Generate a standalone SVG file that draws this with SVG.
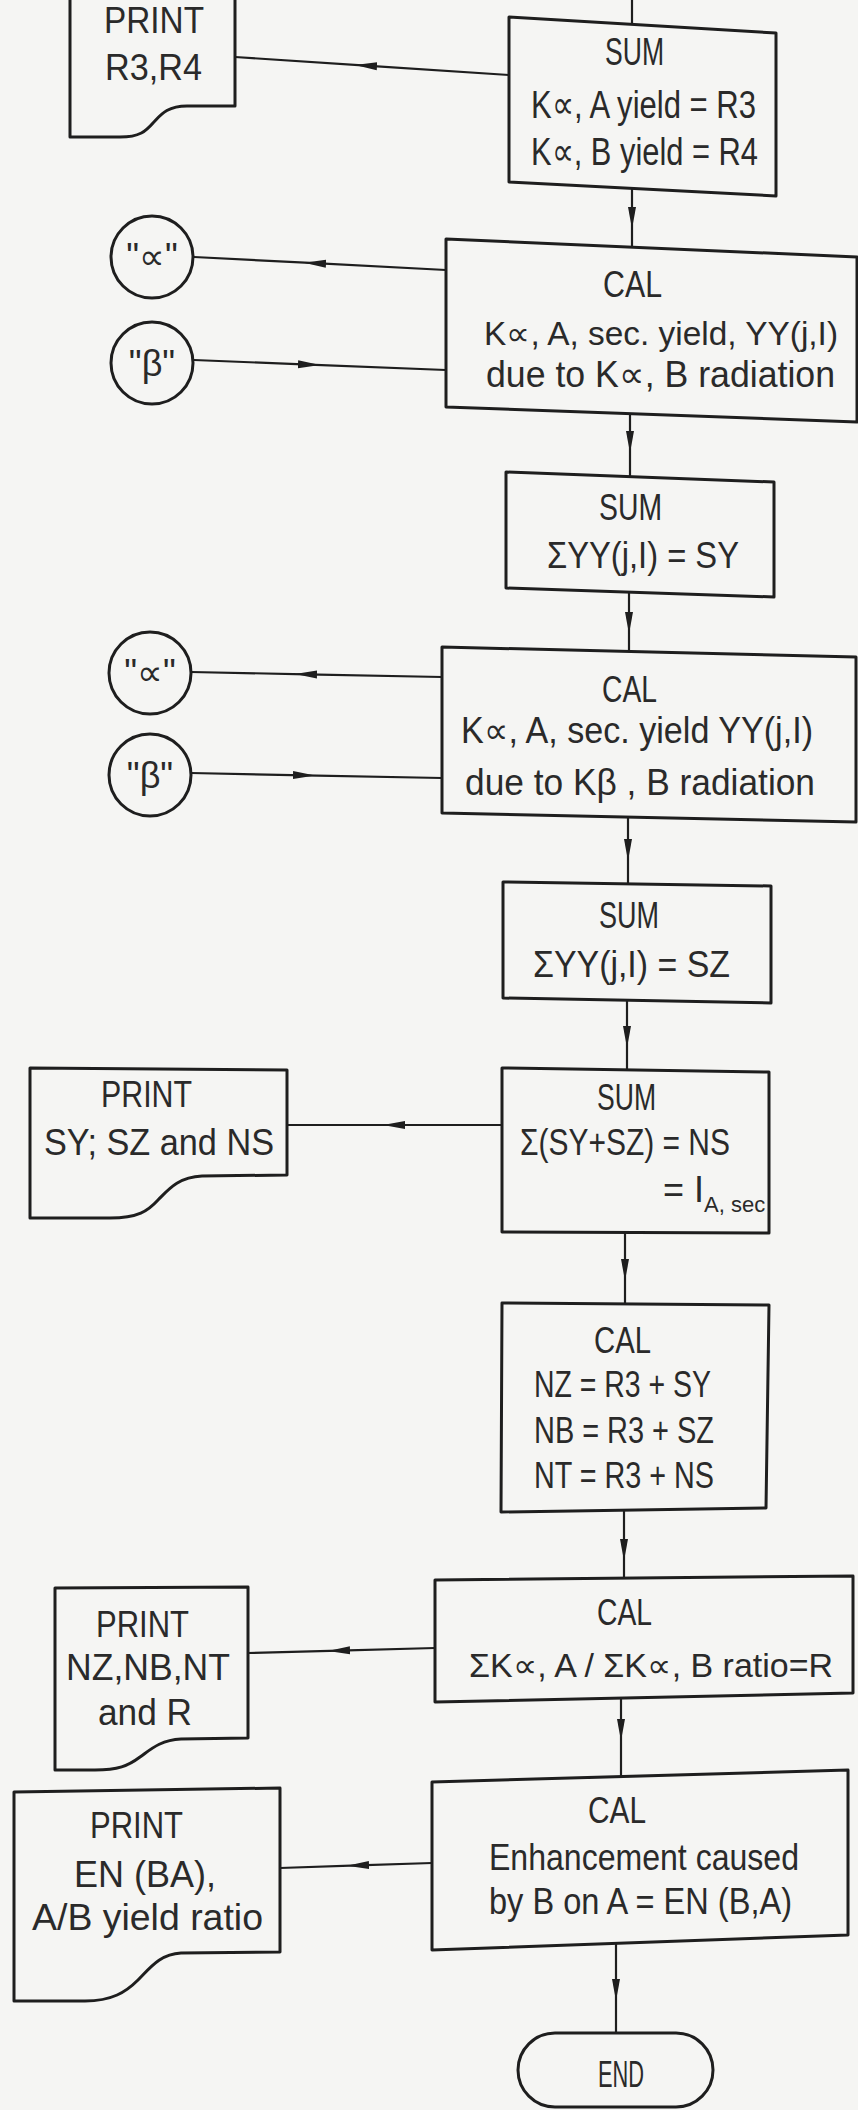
<svg xmlns="http://www.w3.org/2000/svg" width="858" height="2110" viewBox="0 0 858 2110">
<defs>
<style>
.box{fill:none;stroke:#1e1e1e;stroke-width:3;stroke-linejoin:round}
.ln{fill:none;stroke:#1e1e1e;stroke-width:2.2;marker-mid:url(#ah)}
.pl{fill:none;stroke:#1e1e1e;stroke-width:2.2}
.t{font-family:"Liberation Sans",Arial,sans-serif;font-size:36px;fill:#2a2a2a}
.ts{font-family:"Liberation Sans",Arial,sans-serif;font-size:33px;fill:#2a2a2a}
.tb{font-family:"Liberation Sans",Arial,sans-serif;font-size:39px;fill:#2a2a2a}
.tc{font-family:"Liberation Sans",Arial,sans-serif;font-size:36px;fill:#2a2a2a;text-anchor:middle}
</style>
<marker id="ah" viewBox="0 0 22 9" refX="11" refY="4.5" markerWidth="22" markerHeight="9" markerUnits="userSpaceOnUse" orient="auto"><path d="M0,0.5 L22,4.5 L0,8.5 z" fill="#1e1e1e"/></marker>
</defs>
<rect x="0" y="0" width="858" height="2110" fill="#f5f5f3"/>

<g id="connectors">
<path class="pl" d="M632,0 L632,24"/>
<path class="ln" d="M509,75 L366,65.6 L235,57"/>
<path class="ln" d="M632,188.5 L632,218 L632,247"/>
<path class="ln" d="M446,270 L315,263.2 L194,257"/>
<path class="ln" d="M194,360 L309,364.6 L446,370"/>
<path class="ln" d="M630,414 L630,442 L630,477"/>
<path class="ln" d="M629,592 L629,623 L629,652"/>
<path class="ln" d="M442,677 L306,674.3 L191,672"/>
<path class="ln" d="M191,773 L304,775.3 L442,778"/>
<path class="ln" d="M628,817 L628,850 L628,884"/>
<path class="ln" d="M627,1000 L627,1037 L627,1070"/>
<path class="ln" d="M502,1125 L394,1125 L287,1125"/>
<path class="ln" d="M625,1232 L625,1270 L625,1304"/>
<path class="ln" d="M624,1510 L624,1550 L624,1578"/>
<path class="ln" d="M435,1648 L339,1650.6 L248,1653"/>
<path class="ln" d="M621,1698 L621,1730 L621,1777"/>
<path class="ln" d="M432,1863 L358,1865.4 L280,1868"/>
<path class="ln" d="M616,1943 L616,1990 L616,2033"/>
</g>

<g id="print1">
<path class="box" d="M70,-5 L235,-5 L235,106 L187,106 C166,106 160,116 153,123 C146,131 140,137 120,137 L70,137 Z"/>
<text class="t" x="104" y="33" textLength="100" lengthAdjust="spacingAndGlyphs">PRINT</text>
<text class="t" x="105" y="80" textLength="97" lengthAdjust="spacingAndGlyphs">R3,R4</text>
</g>

<g id="sum1">
<polygon class="box" points="509,17 776,33 776,196 509,182"/>
<text class="tb" x="605" y="65" textLength="59" lengthAdjust="spacingAndGlyphs">SUM</text>
<text class="tb" x="531" y="118" textLength="225" lengthAdjust="spacingAndGlyphs">K∝, A yield = R3</text>
<text class="tb" x="531" y="165" textLength="227" lengthAdjust="spacingAndGlyphs">K∝, B yield = R4</text>
</g>

<g id="cal1">
<polygon class="box" points="446,239 857,257 857,422 446,407"/>
<text class="t" x="603" y="297" textLength="59" lengthAdjust="spacingAndGlyphs">CAL</text>
<text class="ts" x="484" y="345" textLength="354" lengthAdjust="spacingAndGlyphs">K∝, A, sec. yield, YY(j,I)</text>
<text class="t" x="486" y="387" textLength="349" lengthAdjust="spacingAndGlyphs">due to K∝, B radiation</text>
</g>

<g id="alpha1">
<circle class="box" cx="152" cy="257" r="41"/>
<text class="tc" x="152" y="269">"∝"</text>
</g>
<g id="beta1">
<circle class="box" cx="152" cy="363" r="41"/>
<text class="tc" x="152" y="376">"β"</text>
</g>

<g id="sum2">
<polygon class="box" points="506,472 774,482 774,597 506,588"/>
<text class="t" x="599" y="520" textLength="63" lengthAdjust="spacingAndGlyphs">SUM</text>
<text class="t" x="547" y="568" textLength="192" lengthAdjust="spacingAndGlyphs">ΣYY(j,I) = SY</text>
</g>

<g id="cal2">
<polygon class="box" points="442,647 856,657 856,822 442,813"/>
<text class="t" x="602" y="702" textLength="55" lengthAdjust="spacingAndGlyphs">CAL</text>
<text class="t" x="461" y="743" textLength="352" lengthAdjust="spacingAndGlyphs">K∝, A, sec. yield YY(j,I)</text>
<text class="t" x="465" y="795" textLength="350" lengthAdjust="spacingAndGlyphs">due to Kβ , B radiation</text>
</g>

<g id="alpha2">
<circle class="box" cx="150" cy="673" r="41"/>
<text class="tc" x="150" y="685">"∝"</text>
</g>
<g id="beta2">
<circle class="box" cx="150" cy="775" r="41"/>
<text class="tc" x="150" y="788">"β"</text>
</g>

<g id="sum3">
<polygon class="box" points="503,882 771,886 771,1003 503,998"/>
<text class="t" x="599" y="928" textLength="60" lengthAdjust="spacingAndGlyphs">SUM</text>
<text class="t" x="533" y="977" textLength="197" lengthAdjust="spacingAndGlyphs">ΣYY(j,I) = SZ</text>
</g>

<g id="sum4">
<polygon class="box" points="502,1068 769,1072 769,1233 502,1232"/>
<text class="t" x="597" y="1110" textLength="59" lengthAdjust="spacingAndGlyphs">SUM</text>
<text class="t" x="520" y="1155" textLength="210" lengthAdjust="spacingAndGlyphs">Σ(SY+SZ) = NS</text>
<text class="t" x="663" y="1202">= I<tspan font-size="22" dy="10">A, sec</tspan></text>
</g>

<g id="print2">
<path class="box" d="M30,1068 L287,1070 L287,1175 L202,1176 C178,1177 168,1190 158,1200 C148,1211 138,1218 110,1218 L30,1218 Z"/>
<text class="t" x="101" y="1107" textLength="91" lengthAdjust="spacingAndGlyphs">PRINT</text>
<text class="t" x="44" y="1155" textLength="230" lengthAdjust="spacingAndGlyphs">SY; SZ and NS</text>
</g>

<g id="cal3">
<polygon class="box" points="502,1303 769,1305 766,1508 501,1512"/>
<text class="t" x="594" y="1353" textLength="57" lengthAdjust="spacingAndGlyphs">CAL</text>
<text class="t" x="534" y="1397" textLength="177" lengthAdjust="spacingAndGlyphs">NZ = R3 + SY</text>
<text class="t" x="534" y="1443" textLength="180" lengthAdjust="spacingAndGlyphs">NB = R3 + SZ</text>
<text class="t" x="534" y="1488" textLength="180" lengthAdjust="spacingAndGlyphs">NT = R3 + NS</text>
</g>

<g id="cal4">
<polygon class="box" points="435,1580 853,1576 853,1693 435,1702"/>
<text class="t" x="597" y="1625" textLength="55" lengthAdjust="spacingAndGlyphs">CAL</text>
<text class="ts" x="469" y="1677" textLength="364" lengthAdjust="spacingAndGlyphs">ΣK∝, A / ΣK∝, B ratio=R</text>
</g>

<g id="print3">
<path class="box" d="M55,1588 L248,1587 L248,1738 L181,1739 C160,1740 150,1750 140,1757 C128,1766 118,1770 95,1770 L55,1770 Z"/>
<text class="t" x="96" y="1637" textLength="93" lengthAdjust="spacingAndGlyphs">PRINT</text>
<text class="t" x="66" y="1680" textLength="164" lengthAdjust="spacingAndGlyphs">NZ,NB,NT</text>
<text class="t" x="98" y="1725" textLength="94" lengthAdjust="spacingAndGlyphs">and R</text>
</g>

<g id="cal5">
<polygon class="box" points="432,1782 848,1770 848,1935 432,1950"/>
<text class="t" x="588" y="1823" textLength="58" lengthAdjust="spacingAndGlyphs">CAL</text>
<text class="t" x="489" y="1870" textLength="310" lengthAdjust="spacingAndGlyphs">Enhancement caused</text>
<text class="t" x="489" y="1914" textLength="303" lengthAdjust="spacingAndGlyphs">by B on A = EN (B,A)</text>
</g>

<g id="print4">
<path class="box" d="M14,1792 L280,1788 L280,1952 L181,1953 C160,1954 150,1968 138,1980 C126,1992 112,2001 85,2001 L14,2001 Z"/>
<text class="t" x="90" y="1838" textLength="93" lengthAdjust="spacingAndGlyphs">PRINT</text>
<text class="t" x="74" y="1887" textLength="142" lengthAdjust="spacingAndGlyphs">EN (BA),</text>
<text class="t" x="32" y="1930" textLength="231" lengthAdjust="spacingAndGlyphs">A/B yield ratio</text>
</g>

<g id="end">
<rect class="box" x="518" y="2033" width="195" height="74" rx="37" ry="37"/>
<text class="t" x="598" y="2087" textLength="46" lengthAdjust="spacingAndGlyphs">END</text>
</g>
</svg>
